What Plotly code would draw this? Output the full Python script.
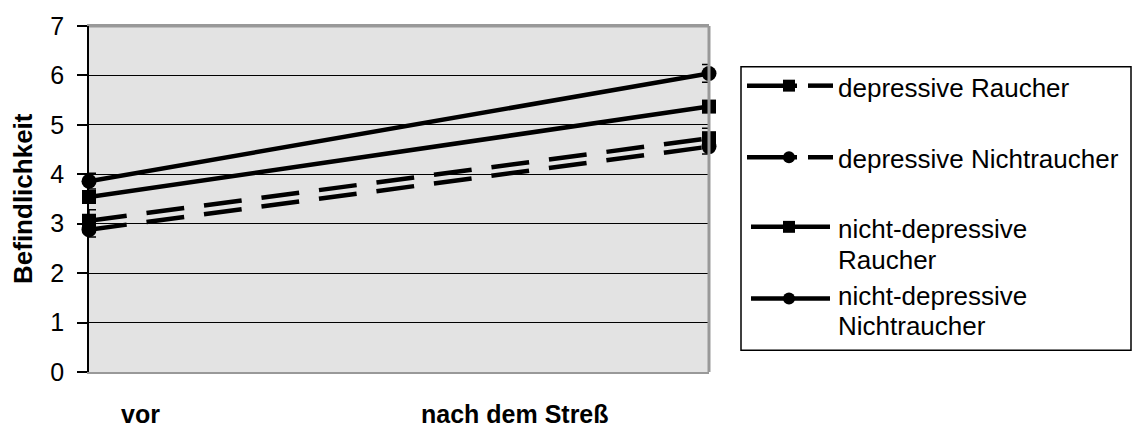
import plotly.graph_objects as go

# Measurement points and their axis labels
phases = [0, 1]
phase_labels = ["vor", "nach dem Streß"]

# Mean well-being per group, before and after stress
dep_raucher = [3.06, 4.73]
dep_nichtraucher = [2.88, 4.56]
nd_raucher = [3.54, 5.37]
nd_nichtraucher = [3.86, 6.04]

# Standard errors
dep_raucher_err = [0.22, 0.2]
dep_nichtraucher_err = [0.15, 0.15]
nd_raucher_err = [0.12, 0.12]
nd_nichtraucher_err = [0.16, 0.18]

legend_labels = [
    ["depressive Raucher"],
    ["depressive Nichtraucher"],
    ["nicht-depressive", "Raucher"],
    ["nicht-depressive", "Nichtraucher"],
]

DASH = "38px,20px"
series = [
    (dep_raucher, dep_raucher_err, "square", DASH),
    (dep_nichtraucher, dep_nichtraucher_err, "circle", DASH),
    (nd_raucher, nd_raucher_err, "square", "solid"),
    (nd_nichtraucher, nd_nichtraucher_err, "circle", "solid"),
]

font = "Liberation Sans, Arial, sans-serif"
W, H = 1133, 429
L, R, T, B = 89, 424, 24, 57
PW, PH = W - L - R, H - T - B


def px(x):
    return (x - L) / PW


def py(y):
    return (H - B - y) / PH


fig = go.Figure()
for (vals, err, sym, dash), lbl in zip(series, legend_labels):
    fig.add_trace(go.Scatter(
        x=phases, y=vals, name=" ".join(lbl), mode="lines+markers",
        line=dict(color="black", width=4.5, dash=dash),
        marker=dict(symbol=sym, size=14 if sym == "square" else 15, color="black"),
        error_y=dict(type="data", array=err, color="black", thickness=1.5, width=7),
        cliponaxis=False, showlegend=False,
    ))

fig.update_layout(
    width=W, height=H,
    margin=dict(l=L, r=R, t=T, b=B),
    paper_bgcolor="white",
    plot_bgcolor="#e3e3e3",
    font=dict(family=font, color="black", size=25),
    showlegend=False,
    xaxis=dict(
        range=[0, 1], showgrid=False, zeroline=False, showticklabels=False,
        showline=True, linecolor="#999999", linewidth=2, mirror=True, ticks="",
    ),
    yaxis=dict(
        range=[0, 7], dtick=1, showgrid=True, gridcolor="black", gridwidth=1,
        zeroline=False, showline=True, linecolor="black", linewidth=1.5,
        ticks="outside", ticklen=10, tickcolor="black", tickwidth=1.5,
        tickfont=dict(size=25), ticklabelstandoff=8,
    ),
)

# grey frame on the right and top
fig.add_shape(type="line", xref="paper", yref="paper", x0=1, x1=1, y0=0, y1=1,
              line=dict(color="#999999", width=3))
fig.add_shape(type="line", xref="paper", yref="paper", x0=0, x1=1, y0=1, y1=1,
              line=dict(color="#999999", width=3))

# y-axis title
fig.add_annotation(text="<b>Befindlichkeit</b>", xref="paper", yref="paper",
                   x=px(23), y=py(198), textangle=-90, showarrow=False,
                   xanchor="center", yanchor="middle",
                   font=dict(size=26, family=font))

# category labels under the plot
label_x = [140, 515]
for lbl, cx in zip(phase_labels, label_x):
    fig.add_annotation(text=f"<b>{lbl}</b>", xref="paper", yref="paper",
                       x=px(cx), y=py(414), xanchor="center", yanchor="middle",
                       showarrow=False, font=dict(size=25, family=font))

# legend box
fig.add_shape(type="rect", xref="paper", yref="paper",
              x0=px(741), x1=px(1131), y0=py(65), y1=py(350),
              line=dict(color="black", width=1.5), fillcolor="white", layer="below")

sym_y = [84, 156, 226, 298]
text_y = [[86], [158], [228, 259], [296, 326]]
for (vals, err, sym, dash), sy, tys, lines in zip(series, sym_y, text_y, legend_labels):
    if dash == "solid":
        segs = [(751, 830)]
    else:
        segs = [(747, 797), (808, 833)]
    for x0, x1 in segs:
        fig.add_shape(type="line", xref="paper", yref="paper",
                      x0=px(x0), x1=px(x1), y0=py(sy), y1=py(sy),
                      line=dict(color="black", width=4.5))
    half = 6
    fig.add_shape(type="rect" if sym == "square" else "circle",
                  xref="paper", yref="paper",
                  x0=px(789 - half), x1=px(789 + half),
                  y0=py(sy - half), y1=py(sy + half),
                  line=dict(color="black", width=0), fillcolor="black")
    for ty, line_text in zip(tys, lines):
        fig.add_annotation(text=line_text, xref="paper", yref="paper",
                           x=px(836), y=py(ty), xanchor="left", yanchor="middle",
                           showarrow=False, font=dict(size=26, family=font))

fig.write_html("out.html")
